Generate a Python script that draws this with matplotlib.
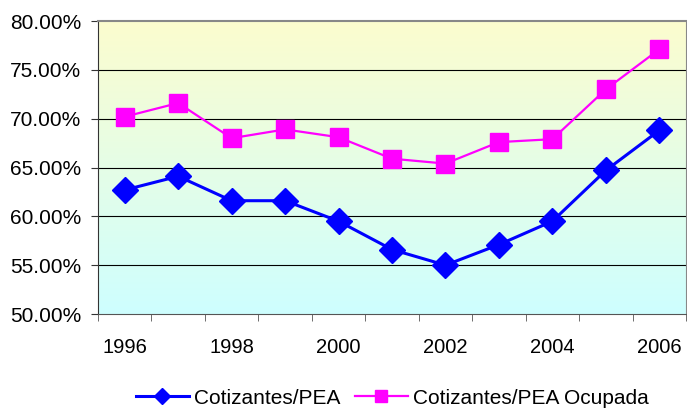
import numpy as np
import matplotlib
matplotlib.use("Agg")
import matplotlib.pyplot as plt
from matplotlib.ticker import FixedLocator, FuncFormatter

plt.rcParams['font.family'] = ['Liberation Sans', 'DejaVu Sans']

years = [1996, 1997, 1998, 1999, 2000, 2001, 2002, 2003, 2004, 2005, 2006]
pea = [62.7, 64.1, 61.6, 61.6, 59.5, 56.6, 55.0, 57.1, 59.5, 64.7, 68.8]
pea_ocupada = [70.2, 71.6, 68.0, 68.9, 68.1, 65.9, 65.4, 67.6, 67.9, 73.0, 77.1]

fig = plt.figure(figsize=(6.87, 4.11), dpi=100)
ax = fig.add_axes([98 / 687, 1 - 314 / 411, 588 / 687, 293 / 411])

x = np.arange(len(years))
ax.set_xlim(-0.5, len(years) - 0.5)
ax.set_ylim(50, 80)

# gradient background, yellow on top to cyan at bottom
grad = np.linspace(0, 1, 256)[:, None]
top = np.array([252, 252, 206]) / 255
bot = np.array([206, 255, 255]) / 255
img = top[None, None, :] * (1 - grad[:, :, None]) + bot[None, None, :] * grad[:, :, None]
ax.imshow(img, extent=[-0.5, len(years) - 0.5, 50, 80], aspect='auto', zorder=0)

for yv in range(55, 80, 5):
    ax.axhline(yv, color='black', lw=0.8, zorder=1)

ax.plot(x, pea, color='#0000FF', lw=2.2, marker='D', markersize=13,
        label='Cotizantes/PEA', zorder=3)
ax.plot(x, pea_ocupada, color='#FF00FF', lw=1.6, marker='s', markersize=13,
        label='Cotizantes/PEA Ocupada', zorder=3)

ax.set_yticks(range(50, 81, 5))
ax.yaxis.set_major_formatter(FuncFormatter(lambda v, p: '%.2f%%' % v))
ax.set_xticks(x[::2])
ax.set_xticklabels([str(y) for y in years[::2]])
ax.xaxis.set_minor_locator(FixedLocator(np.arange(-0.5, len(years), 1)))
ax.tick_params(axis='x', which='major', length=0, pad=17, labelsize=14.5)
ax.tick_params(axis='x', which='minor', length=5, color='#555555')
ax.tick_params(axis='y', length=5, labelsize=15, pad=7, color='#333333')

ax.spines['left'].set_color('#333333')
ax.spines['bottom'].set_color('#555555')
ax.spines['top'].set_color('#888888')
ax.spines['right'].set_color('#888888')
ax.spines['top'].set_linewidth(1.5)
for s in ax.spines.values():
    s.set_zorder(4)

fig.legend(loc='center', bbox_to_anchor=(0.571, 1 - 398 / 411), ncol=2,
           frameon=False, fontsize=15, handlelength=2.55, columnspacing=0.67,
           handletextpad=0.25, markerscale=0.65)

plt.savefig("out.png", dpi=100)
